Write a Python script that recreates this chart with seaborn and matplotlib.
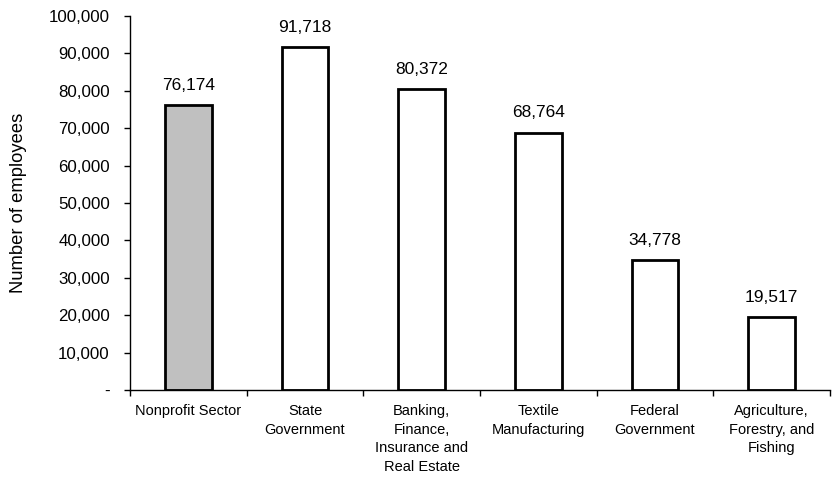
import matplotlib
matplotlib.use("Agg")
import matplotlib.pyplot as plt
import seaborn as sns
import pandas as pd
import numpy as np
from matplotlib.ticker import FuncFormatter, FixedLocator

categories = ["Nonprofit Sector", "State\nGovernment", "Banking,\nFinance,\nInsurance and\nReal Estate",
              "Textile\nManufacturing", "Federal\nGovernment", "Agriculture,\nForestry, and\nFishing"]
values = [76174, 91718, 80372, 68764, 34778, 19517]
fills = ["#c0c0c0", "#ffffff", "#ffffff", "#ffffff", "#ffffff", "#ffffff"]

sns.set_style("white")
plt.rcParams['font.family'] = ['Liberation Sans', 'DejaVu Sans']
plt.rcParams['text.color'] = 'black'
plt.rcParams['axes.labelcolor'] = 'black'
plt.rcParams['xtick.color'] = 'black'
plt.rcParams['ytick.color'] = 'black'

df = pd.DataFrame({"cat": categories, "val": values})
fig = plt.figure(figsize=(8.32, 4.78), dpi=100)
ax = fig.add_axes([130/832, 1 - 390/478, 700/832, (390-16)/478])
sns.barplot(data=df, x="cat", y="val", hue="cat", palette=fills, legend=False,
            width=0.4, edgecolor="black", linewidth=2, ax=ax, saturation=1)

ax.set_ylim(0, 100000)
ax.set_xlim(-0.5, len(categories) - 0.5)
ax.set_yticks(np.arange(0, 100001, 10000))
ax.yaxis.set_major_formatter(FuncFormatter(lambda v, p: "-" if v == 0 else f"{int(v):,}"))
ax.tick_params(axis="y", labelsize=12.2, length=4.5, width=1, direction="out", left=True, pad=10)
ax.tick_params(axis="x", which="major", length=0, labelsize=10.5, pad=10)
ax.xaxis.set_minor_locator(FixedLocator(np.arange(-0.5, len(categories), 1.0)))
ax.tick_params(axis="x", which="minor", length=4.5, width=1, direction="out", bottom=True)
for lbl in ax.get_xticklabels():
    lbl.set_va("top")
    lbl.set_ha("center")
    lbl.set_linespacing(1.42)

for s in ["top", "right"]:
    ax.spines[s].set_visible(False)
for s in ["left", "bottom"]:
    ax.spines[s].set_color("black")
    ax.spines[s].set_linewidth(1)

for i, v in enumerate(values):
    ax.text(i, v + 3300, f"{v:,}", ha="center", va="bottom", fontsize=12.5)

ax.set_xlabel("")
ax.set_ylabel("Number of employees", fontsize=13.2)
ax.yaxis.set_label_coords(-103/700, 0.5)

fig.savefig("out.png", dpi=100)
